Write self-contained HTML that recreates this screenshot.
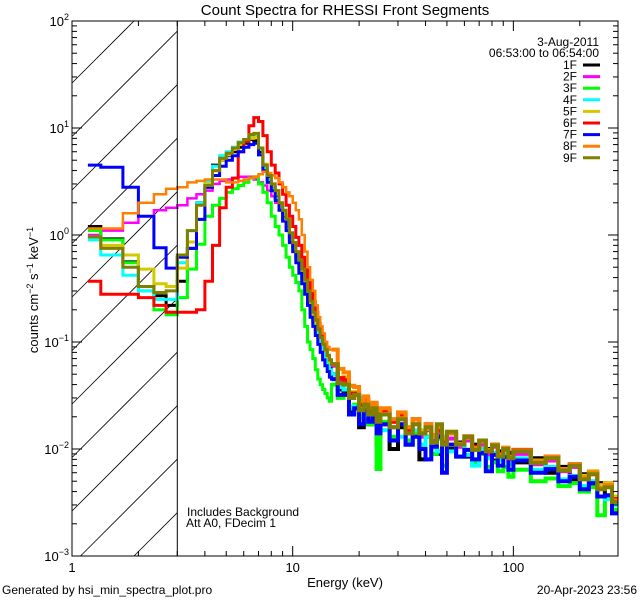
<!DOCTYPE html>
<html><head><meta charset="utf-8"><style>
html,body{margin:0;padding:0;background:#fff;width:640px;height:600px;overflow:hidden;}
svg{display:block;font-family:"Liberation Sans",sans-serif;}
</style></head><body>
<svg id="chart" width="640" height="600" viewBox="0 0 640 600">
<defs><clipPath id="plotclip"><rect x="72" y="21" width="546" height="535"/></clipPath></defs>
<rect x="0" y="0" width="640" height="600" fill="#fff"/>
<text x="345" y="15" text-anchor="middle" font-size="15">Count Spectra for RHESSI Front Segments</text>
<g id="hatch"></g>
<g id="series" clip-path="url(#plotclip)"></g>
<g id="axes"></g>
<text x="187" y="516" font-size="12">Includes Background</text>
<text x="186" y="527" font-size="12">Att A0, FDecim 1</text>
<text x="345" y="587" text-anchor="middle" font-size="13">Energy (keV)</text>
<text transform="translate(38,290) rotate(-90)" text-anchor="middle" font-size="13">counts cm<tspan dy="-5" font-size="9">−2</tspan><tspan dy="5"> s</tspan><tspan dy="-5" font-size="9">−1</tspan><tspan dy="5"> keV</tspan><tspan dy="-5" font-size="9">−1</tspan></text>
<text x="2" y="594" font-size="12">Generated by hsi_min_spectra_plot.pro</text>
<text x="637" y="594" text-anchor="end" font-size="12">20-Apr-2023 23:56</text>
<g id="legend">
<text x="599" y="46" text-anchor="end" font-size="12">3-Aug-2011</text>
<text x="599" y="57" text-anchor="end" font-size="12">06:53:00 to 06:54:00</text>
</g>
</svg>
<script>
const edges=[1.18,1.35,1.7,2,2.35,2.67,3,3.333,3.667,4,4.333,4.667,5,5.333,5.667,6,6.333,6.667,7,7.333,7.667,8,8.333,8.667,9,9.333,9.667,10,10.333,10.667,11,11.333,11.667,12,12.333,12.667,13,13.333,13.667,14,14.333,14.667,15,16,17,18,19,20,21,22,23,24,25,27.5,30,32.5,35,37.5,40,42.5,45,47.5,50,55,60,65,70,75,80,85,90,95,100,120,140,160,180,200,220,240,260,280,300];
const segNames=["1F","2F","3F","4F","5F","6F","7F","8F","9F"];
const segColors=["#000000","#ff00ff","#00ff00","#00ffff","#d4c800","#ff0000","#0000ff","#ff8000","#808000"];
const s1F=[1.2,0.92,0.56,0.33,0.27,0.22, 0.37,0.75,2.0,2.8,4.5,5.0,5.5,6.0,6.6,7.2,7.8,7.6, 6.0,4.4,3.4,2.8,2.3,1.8,1.5,1.2,0.95,0.78,0.62,0.5, 0.4,0.32,0.26,0.2,0.16,0.14,0.12,0.1,0.085,0.075,0.065,0.057,
0.05,0.036,0.034,0.022,0.024,0.016,0.02,0.017,0.021,0.011, 0.017,0.01,0.016,0.011,0.014,0.008,0.013,0.012,0.009,0.012, 0.01,0.0115,0.0085,0.011,0.009,0.01,0.0078,0.0095,0.0085,0.0092, 0.0075,0.0082,0.006,0.0068,0.0052,0.0058,0.0046,0.0048,0.0036,0.0034];
const s2F=[1.0,1.1,1.3,1.5,1.7,1.8, 1.9,2.2,2.4,2.6,3.0,3.2,3.3,3.4,3.5,3.5,3.5,3.3, 3.1,2.9,2.6,2.3,2.0,1.7,1.4,1.15,0.95,0.78,0.63,0.52, 0.43,0.35,0.28,0.22,0.18,0.15,0.13,0.11,0.095,0.082,0.072,0.064,
0.06,0.044,0.042,0.03,0.032,0.025,0.026,0.02,0.024,0.019, 0.021,0.016,0.019,0.014,0.017,0.013,0.015,0.0125,0.014,0.012, 0.0125,0.0105,0.012,0.0098,0.011,0.0088,0.0105,0.0085,0.0098,0.008, 0.009,0.0072,0.0078,0.0062,0.0068,0.0055,0.0058,0.0044,0.0048,0.0034];
const s3F=[1.1,0.9,0.55,0.3,0.2,0.18, 0.26,0.48,0.82,1.5,1.9,2.2,2.5,2.7,2.9,3.1,3.4,3.5, 3.0,2.5,2.0,1.5,1.2,1.0,0.8,0.62,0.5,0.42,0.36,0.3, 0.2,0.14,0.1,0.085,0.07,0.055,0.045,0.04,0.036,0.033,0.03,0.028,
0.04,0.03,0.032,0.024,0.026,0.02,0.022,0.017,0.019,0.0065, 0.018,0.013,0.017,0.012,0.014,0.0105,0.013,0.009,0.0125,0.007, 0.011,0.0085,0.0098,0.0075,0.009,0.0068,0.0075,0.0062,0.0068,0.0055, 0.0064,0.005,0.0053,0.0045,0.0048,0.004,0.0044,0.0024,0.0036,0.0027];
const s4F=[0.9,0.65,0.42,0.3,0.25,0.25, 0.55,1.1,2.0,3.2,4.4,5.5,6.0,6.6,7.4,7.8,8.2,8.5, 6.3,4.3,3.3,2.7,2.2,1.8,1.4,1.15,0.9,0.75,0.6,0.48, 0.38,0.3,0.24,0.19,0.15,0.13,0.11,0.095,0.08,0.07,0.062,0.055,
0.05,0.038,0.036,0.025,0.024,0.03,0.02,0.023,0.018,0.019, 0.015,0.019,0.013,0.011,0.015,0.011,0.013,0.0115,0.0095,0.013, 0.0095,0.011,0.0088,0.007,0.01,0.0082,0.0092,0.0078,0.0088,0.0072, 0.0082,0.0064,0.0068,0.0052,0.0056,0.0045,0.005,0.0036,0.0034,0.003];
const s5F=[0.96,0.8,0.65,0.48,0.35,0.33, 0.49,0.86,1.4,3.0,4.0,5.0,5.6,6.3,7.0,7.6,8.0,8.2, 6.5,4.6,3.6,2.9,2.4,1.9,1.55,1.25,1.0,0.85,0.68,0.55, 0.45,0.36,0.29,0.23,0.18,0.15,0.13,0.11,0.095,0.083,0.073,0.065,
0.062,0.046,0.047,0.034,0.034,0.025,0.028,0.022,0.025,0.02, 0.023,0.018,0.02,0.016,0.019,0.015,0.0155,0.013,0.015,0.012, 0.0145,0.011,0.0128,0.0102,0.0118,0.0095,0.011,0.0088,0.0102,0.0083, 0.0098,0.0078,0.0082,0.0064,0.0072,0.0056,0.0062,0.0046,0.0048,0.0036];
const s6F=[0.37,0.28,0.28,0.26,0.22,0.19, 0.19,0.19,0.2,0.37,0.8,1.8,2.8,3.4,6.0,7.5,10.5,12.5, 11.5,8.5,6.0,4.5,3.8,3.0,2.4,1.9,1.5,1.2,0.95,0.8, 0.62,0.48,0.38,0.3,0.24,0.19,0.15,0.12,0.1,0.085,0.075,0.068,
0.062,0.046,0.044,0.033,0.033,0.026,0.029,0.023,0.026,0.02, 0.023,0.018,0.021,0.015,0.019,0.014,0.017,0.0135,0.015,0.012, 0.014,0.0112,0.013,0.0105,0.012,0.0095,0.011,0.009,0.0102,0.0082, 0.0098,0.0076,0.0085,0.0064,0.0072,0.0054,0.006,0.0043,0.0046,0.0034];
const s7F=[4.5,4.3,2.8,1.5,0.76,0.49, 0.62,0.75,1.4,2.8,3.6,4.4,5.0,5.5,6.0,6.6,7.0,7.2, 5.6,4.0,3.1,2.6,2.1,1.7,1.35,1.1,0.85,0.7,0.55,0.44, 0.35,0.28,0.22,0.17,0.14,0.115,0.095,0.08,0.068,0.06,0.053,0.047,
0.045,0.032,0.032,0.021,0.024,0.017,0.023,0.018,0.02,0.014, 0.017,0.012,0.017,0.011,0.013,0.01,0.008,0.0105,0.013,0.006, 0.011,0.0085,0.0098,0.008,0.0092,0.0062,0.0088,0.007,0.0084,0.0064, 0.0078,0.006,0.0065,0.005,0.0055,0.0042,0.0048,0.0036,0.0037,0.0025];
const s8F=[1.15,1.15,1.6,2.0,2.4,2.7, 2.8,3.1,3.2,3.3,3.3,3.3,3.1,3.1,3.2,3.3,3.4,3.5, 3.7,3.9,3.8,3.6,3.4,3.1,2.8,2.5,2.3,2.0,1.7,1.4, 1.0,0.7,0.5,0.38,0.3,0.22,0.17,0.14,0.12,0.1,0.09,0.085,
0.085,0.056,0.052,0.039,0.038,0.028,0.031,0.024,0.027,0.022, 0.024,0.019,0.022,0.016,0.019,0.014,0.017,0.0135,0.016,0.0125, 0.014,0.0112,0.0132,0.0102,0.012,0.0098,0.011,0.0088,0.0103,0.0084, 0.0097,0.0077,0.0085,0.0065,0.0072,0.0054,0.006,0.0043,0.0046,0.0033];
const s9F=[0.96,0.75,0.5,0.33,0.29,0.3, 0.65,1.1,1.9,2.9,4.0,5.2,5.8,6.5,7.3,7.8,8.7,8.9, 6.5,4.5,3.6,3.0,2.6,2.0,1.7,1.4,1.05,0.85,0.7,0.58, 0.48,0.38,0.3,0.24,0.19,0.16,0.13,0.11,0.095,0.085,0.075,0.068,
0.062,0.041,0.04,0.03,0.032,0.023,0.026,0.021,0.024,0.018, 0.021,0.016,0.019,0.014,0.017,0.014,0.016,0.0115,0.017,0.011, 0.0145,0.011,0.013,0.0098,0.012,0.0095,0.0108,0.0085,0.01,0.0082, 0.0095,0.0074,0.0082,0.0063,0.007,0.0052,0.0058,0.0042,0.0044,0.0032];
const seriesValues=[s1F,s2F,s3F,s4F,s5F,s6F,s7F,s8F,s9F];
const xTickLabels=["1","10","100"];
const yTickExps=["2","1","0","−1","−2","−3"];

const NS="http://www.w3.org/2000/svg";
const X0=72,X1=618,Y0=21,Y1=556;
const xMinLog=0,xMaxLog=Math.log10(298),yMinLog=-3,yMaxLog=2;
function xs(e){return X0+(Math.log10(e)-xMinLog)/(xMaxLog-xMinLog)*(X1-X0);}
function ys(v){return Y1-(Math.log10(v)-yMinLog)/(yMaxLog-yMinLog)*(Y1-Y0);}
function mk(tag,attrs,parent){const el=document.createElementNS(NS,tag);for(const k in attrs)el.setAttribute(k,attrs[k]);parent.appendChild(el);return el;}

const hatch=document.getElementById('hatch');
const HX1=xs(3);
for(let b=83;b<=Y1+(HX1-X0);b+=53.5){
  // line: y = b - (x - X0)
  const xa=Math.max(X0,X0+b-Y1),xb=Math.min(HX1,X0+b-Y0);
  if(xa>=xb)continue;
  const ln=mk('line',{x1:xa,y1:b-(xa-X0),x2:xb,y2:b-(xb-X0),stroke:'#000','stroke-width':0.8},hatch);
  
  
}
const sg=document.getElementById('series');
const SPLIT=42;
seriesValues.forEach((vals,si)=>{
  let d1='',d2='';
  for(let i=0;i<vals.length;i++){
    const xa=xs(edges[i]).toFixed(1),xb=Math.min(xs(edges[i+1]),X1).toFixed(1),y=ys(vals[i]).toFixed(1);
    if(i<=SPLIT){d1+=(i===0?'M':'L')+xa+','+y+'L'+xb+','+y;}
    if(i>=SPLIT){d2+=(i===SPLIT?'M':'L')+xa+','+y+'L'+xb+','+y;}
  }
  const w=(si===1||si===7)?2.5:3;
  const p=mk('path',{d:d1,fill:'none',stroke:segColors[si],'stroke-width':w},sg);
  
  
  const p2=mk('path',{d:d2,fill:'none',stroke:segColors[si],'stroke-width':4},sg);
  
  
});
const ax=document.getElementById('axes');
const frame=mk('rect',{x:X0,y:Y0,width:X1-X0,height:Y1-Y0,fill:'none',stroke:'#000','stroke-width':1},ax);


const thr=mk('line',{x1:HX1,y1:Y0,x2:HX1,y2:Y1,stroke:'#000','stroke-width':1},ax);


for(let dec=0;dec<3;dec++){
  for(let m=1;m<10;m++){
    const e=Math.pow(10,dec)*m; if(e>298)break;
    const x=xs(e),L=m===1?10:5;
    mk('line',{x1:x,y1:Y1,x2:x,y2:Y1-L,stroke:'#000'},ax);
    mk('line',{x1:x,y1:Y0,x2:x,y2:Y0+L,stroke:'#000'},ax);
  }
}
xTickLabels.forEach((t,i)=>{
  const tx=mk('text',{x:xs(Math.pow(10,i)),y:Y1+16,'text-anchor':'middle','font-size':13},ax);
  tx.textContent=t;
  
  
});
for(let dec=-3;dec<2;dec++){
  for(let m=1;m<10;m++){
    const y=ys(Math.pow(10,dec)*m),L=m===1?10:5;
    mk('line',{x1:X0,y1:y,x2:X0+L,y2:y,stroke:'#000'},ax);
    mk('line',{x1:X1,y1:y,x2:X1-L,y2:y,stroke:'#000'},ax);
  }
}
yTickExps.forEach((ex,i)=>{
  const y=ys(Math.pow(10,2-i));
  const tx=mk('text',{x:X0-3,y:y+5,'text-anchor':'end','font-size':13},ax);
  tx.innerHTML='10<tspan dy="-6" font-size="9">'+ex+'</tspan>';
  
  
});
const lg=document.getElementById('legend');
segNames.forEach((n,i)=>{
  const y=65+i*11.6;
  const t=mk('text',{x:577,y:y+4,'text-anchor':'end','font-size':12},lg);
  t.textContent=n;
  
  
  const l=mk('line',{x1:583,y1:y,x2:600,y2:y,stroke:segColors[i],'stroke-width':3},lg);
  
  
});
</script>
</body></html>
